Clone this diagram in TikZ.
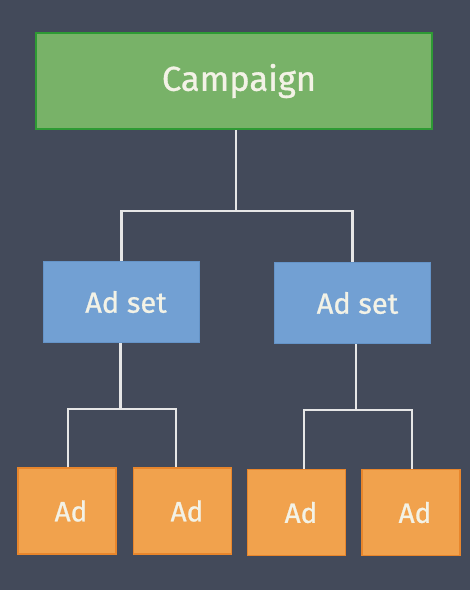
\documentclass[tikz,border=0pt]{standalone}
\usepackage{fontspec}
\setmainfont{Fira Sans}[FakeBold=0.9]
\definecolor{bg}{HTML}{434A5A}
\definecolor{gfill}{HTML}{78B268}
\definecolor{gdraw}{HTML}{2E9A34}
\definecolor{bfill}{HTML}{72A0D3}
\definecolor{bdraw}{HTML}{6594C8}
\definecolor{ofill}{HTML}{F1A24D}
\definecolor{odraw}{HTML}{E8862C}
\definecolor{txt}{HTML}{F3F2E6}
\definecolor{wire}{HTML}{E6E6E6}
\begin{document}
\begin{tikzpicture}[x=1pt,y=-1pt,
  box/.style={rectangle,inner sep=0pt,text=txt,line width=2pt},
  campbox/.style={box,fill=gfill,draw=gdraw,minimum width=396pt,minimum height=96pt,font=\fontsize{34.5}{40}\selectfont},
  setbox/.style={box,fill=bfill,draw=bdraw,line width=1pt,minimum width=156pt,minimum height=81pt,font=\fontsize{29}{34}\selectfont},
  adbox/.style={box,fill=ofill,draw=odraw,line width=1.5pt,minimum width=98pt,minimum height=86pt,font=\fontsize{28}{32}\selectfont},
  wirel/.style={draw=wire,line width=2.5pt}]
\fill[bg] (0,0) rectangle (470,590);
\useasboundingbox (0,0) rectangle (470,590);
\node[campbox] (camp) at (234,81) {\hspace*{10pt}Campaign};
\node[setbox] (s1) at (121.5,302) {\hspace*{9pt}Ad set};
\node[setbox] (s2) at (352.5,303) {\hspace*{10pt}Ad set};
\node[adbox] (d1) at (67,511) {\hspace*{8pt}Ad};
\node[adbox] (d2) at (182.5,511) {\hspace*{9pt}Ad};
\node[adbox] (d3) at (296.5,512.5) {\hspace*{9pt}Ad};
\node[adbox] (d4) at (411,512.5) {\hspace*{8pt}Ad};
\coordinate (j0) at ([xshift=2pt,yshift=-81pt]camp.south);
\coordinate (j1) at ([xshift=-1pt,yshift=-66pt]s1.south);
\coordinate (j2) at ([xshift=3.5pt,yshift=-66pt]s2.south);
\draw[wirel] ([xshift=2pt]camp.south) -- (j0);
\draw[wirel] (s1.north) |- (j0) -| (s2.north);
\draw[wirel] ([xshift=-1pt]s1.south) -- (j1);
\draw[wirel] ([xshift=1pt]d1.north) |- (j1) -| ([xshift=-6.5pt]d2.north);
\draw[wirel] ([xshift=3.5pt]s2.south) -- (j2);
\draw[wirel] ([xshift=7.5pt]d3.north) |- (j2) -| ([xshift=1pt]d4.north);
\end{tikzpicture}
\end{document}
